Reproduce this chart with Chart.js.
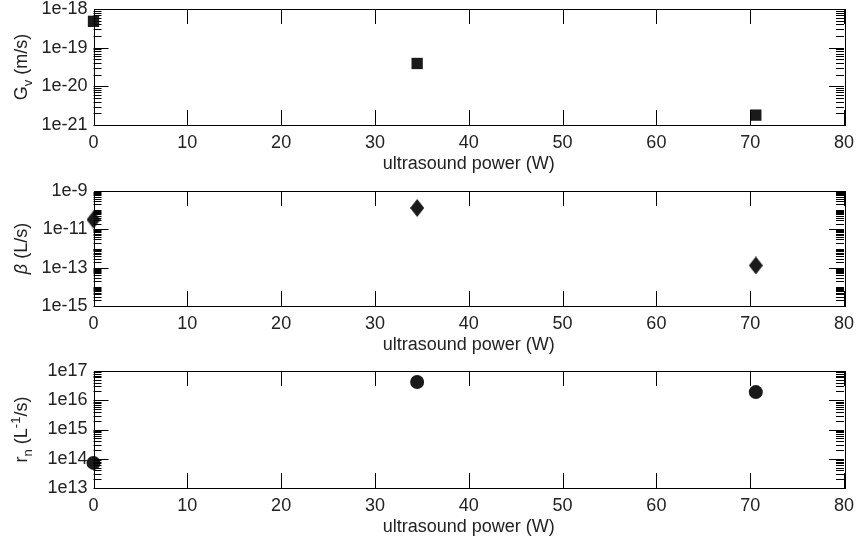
<!DOCTYPE html>
<html>
<head>
<meta charset="utf-8">
<script src="https://cdn.jsdelivr.net/npm/chart.js@4.4.1/dist/chart.umd.min.js"></script>
<style>
  html, body { margin: 0; padding: 0; background: #fff; }
  .panel { position: absolute; left: 0; width: 856px; }
</style>
</head>
<body>
<div class="panel" style="top:0;height:182px"><canvas id="c1"></canvas></div>
<div class="panel" style="top:182px;height:181px"><canvas id="c2"></canvas></div>
<div class="panel" style="top:363px;height:182px"><canvas id="c3"></canvas></div>
<script>
// data
var powerW = [0, 34.5, 70.6];
var growthVel = [4.8e-19, 3.9e-20, 1.8e-21];     // G_v (m/s)
var betaRate = [3.2e-11, 1.3e-10, 1.3e-13];      // beta (L/s)
var nuclRate = [7.2e13, 4.2e16, 1.9e16];         // r_n (L^-1/s)

var xTicks = [0, 10, 20, 30, 40, 50, 60, 70, 80];
var gvTicks = [1e-21, 1e-20, 1e-19, 1e-18];
var betaTicks = [1e-15, 1e-13, 1e-11, 1e-9];
var rnTicks = [1e13, 1e14, 1e15, 1e16, 1e17];

var FONT = "'Liberation Sans', Arial, Helvetica, sans-serif";
var INK = '#1a1a1a';

function expLabel(v) {
  var e = Math.round(Math.log10(v));
  return '1e' + e;
}

// diamond marker, a bit taller than wide
function diamond() {
  var c = document.createElement('canvas');
  c.width = 14; c.height = 18;
  var g = c.getContext('2d');
  g.fillStyle = INK;
  g.beginPath();
  g.moveTo(7, 0); g.lineTo(14, 9); g.lineTo(7, 18); g.lineTo(0, 9);
  g.closePath(); g.fill();
  return c;
}

// frame + inward ticks on all four sides
var frameTicks = {
  id: 'frameTicks',
  afterDraw: function (chart) {
    var ctx = chart.ctx, a = chart.chartArea;
    var xs = chart.scales.x, ys = chart.scales.y;
    var major = chart.options.plugins.frameTicks.major;
    ctx.save();
    ctx.strokeStyle = '#000';
    ctx.lineWidth = 1;
    ctx.strokeRect(Math.round(a.left) + 0.5, Math.round(a.top) + 0.5,
      Math.round(a.right - a.left), Math.round(a.bottom - a.top));
    ctx.beginPath();
    xTicks.forEach(function (v) {
      var px = Math.round(xs.getPixelForValue(v)) + 0.5;
      ctx.moveTo(px, a.bottom); ctx.lineTo(px, a.bottom - 15);
      ctx.moveTo(px, a.top); ctx.lineTo(px, a.top + 15);
    });
    var lo = Math.round(Math.log10(ys.min)), hi = Math.round(Math.log10(ys.max));
    for (var d = lo; d < hi; d++) {
      for (var k = 1; k <= 9; k++) {
        var v = k * Math.pow(10, d);
        var py = Math.round(ys.getPixelForValue(v)) + 0.5;
        var isMajor = k === 1 && major.indexOf(d) >= 0;
        var len = isMajor ? 15 : 8;
        ctx.moveTo(a.left, py); ctx.lineTo(a.left + len, py);
        ctx.moveTo(a.right, py); ctx.lineTo(a.right - len, py);
      }
    }
    ctx.stroke();
    ctx.restore();
  }
};

// rotated y title made of pieces: [text, shift, italic]
var yTitle = {
  id: 'yTitle',
  afterDraw: function (chart) {
    var parts = chart.options.plugins.yTitle.parts;
    var ctx = chart.ctx, a = chart.chartArea;
    ctx.save();
    ctx.fillStyle = '#222';
    ctx.textBaseline = 'alphabetic';
    var widths = [], total = 0;
    parts.forEach(function (p) {
      ctx.font = (p[2] ? 'italic ' : '') + (p[1] ? '13px ' : '18px ') + FONT;
      var w = ctx.measureText(p[0]).width;
      widths.push(w); total += w;
    });
    ctx.translate(27, (a.top + a.bottom) / 2);
    ctx.rotate(-Math.PI / 2);
    var x = -total / 2;
    parts.forEach(function (p, i) {
      ctx.font = (p[2] ? 'italic ' : '') + (p[1] ? '13px ' : '18px ') + FONT;
      ctx.fillText(p[0], x, 0 + p[1]);
      x += widths[i];
    });
    ctx.restore();
  }
};

function makePanel(id, values, ticks, major, marker, parts) {
  var ctx = document.getElementById(id).getContext('2d');
  return new Chart(ctx, {
    type: 'scatter',
    data: {
      datasets: [{
        data: powerW.map(function (x, i) { return { x: x, y: values[i] }; }),
        backgroundColor: INK,
        borderColor: INK,
        borderWidth: 0,
        pointStyle: marker.style,
        pointRadius: marker.radius,
        clip: false
      }]
    },
    options: {
      responsive: true,
      maintainAspectRatio: false,
      animation: false,
      layout: { padding: { top: id === 'c1' ? 9 : 8, right: 12, left: 0, bottom: 0 } },
      plugins: {
        legend: { display: false },
        tooltip: { enabled: false },
        frameTicks: { major: major },
        yTitle: { parts: parts }
      },
      scales: {
        x: {
          type: 'linear', min: 0, max: 80,
          afterBuildTicks: function (s) { s.ticks = xTicks.map(function (v) { return { value: v }; }); },
          afterFit: function (s) { s.height = 57; s.paddingLeft = 0; s.paddingRight = 0; },
          grid: { drawOnChartArea: false, drawTicks: false },
          border: { display: false },
          ticks: { color: '#222', font: { family: FONT, size: 18 }, padding: 7, maxRotation: 0 },
          title: { display: true, text: 'ultrasound power (W)', color: '#222',
                   font: { family: FONT, size: 18 }, padding: { top: 0, bottom: 7 } }
        },
        y: {
          type: 'logarithmic', min: ticks[0], max: ticks[ticks.length - 1],
          afterBuildTicks: function (s) { s.ticks = ticks.map(function (v) { return { value: v }; }); },
          afterFit: function (s) { s.width = 93.5; s.paddingTop = 0; s.paddingBottom = 0; },
          grid: { drawOnChartArea: false, drawTicks: false },
          border: { display: false },
          ticks: { color: '#222', font: { family: FONT, size: 18 }, padding: 6,
                   callback: function (v) { return expLabel(v); } }
        }
      }
    },
    plugins: [frameTicks, yTitle]
  });
}

makePanel('c1', growthVel, gvTicks, [-20, -19], { style: 'rect', radius: 8 },
  [['G', 0], ['v', 5], [' (m/s)', 0]]);
makePanel('c2', betaRate, betaTicks, [-13, -11], { style: diamond(), radius: 9 },
  [['\u03B2', 0, true], [' (L/s)', 0]]);
makePanel('c3', nuclRate, rnTicks, [14, 15, 16], { style: 'circle', radius: 7 },
  [['r', 0], ['n', 5], [' (L', 0], ['-1', -7], ['/s)', 0]]);
</script>
</body>
</html>
